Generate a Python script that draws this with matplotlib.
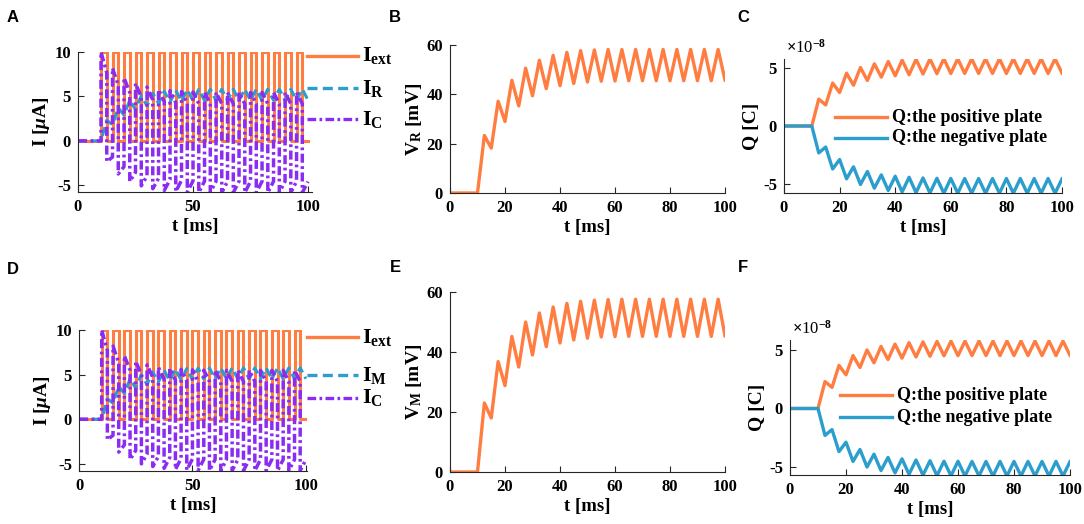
import matplotlib.pyplot as plt
from matplotlib.lines import Line2D

plt.rcParams['font.family'] = 'Liberation Serif'
plt.rcParams['font.weight'] = 'bold'
plt.rcParams['axes.labelweight'] = 'bold'
plt.rcParams['mathtext.fontset'] = 'custom'
plt.rcParams['mathtext.rm'] = 'Liberation Serif:bold'
plt.rcParams['mathtext.bf'] = 'Liberation Serif:bold'
plt.rcParams['mathtext.it'] = 'Liberation Serif:italic:bold'
plt.rcParams['axes.unicode_minus'] = False

ORANGE = '#FF7D40'
BLUE = '#2B9ECD'
PURPLE = '#8B2CF2'

W, H = 1084, 524

# switching times of the pulse train [ms]: rest until 10 ms, then 2.5 ms on / 2.5 ms off
t_nodes = [0, 10, 12.5, 15, 17.5, 20, 22.5, 25, 27.5, 30, 32.5, 35, 37.5, 40, 42.5,
           45, 47.5, 50, 52.5, 55, 57.5, 60, 62.5, 65, 67.5, 70, 72.5, 75, 77.5,
           80, 82.5, 85, 87.5, 90, 92.5, 95, 97.5, 100]
# voltage over the resistor at those times [mV] (panel B)
v_r = [0, 0, 23.3, 18.2, 37.2, 29.0, 45.7, 35.3, 50.6, 39.4, 53.8, 42.3, 55.8, 43.5,
       57.0, 44.4, 57.7, 45.0, 58.0, 45.3, 58.2, 45.4, 58.2, 45.5, 58.2, 45.5, 58.2,
       45.5, 58.2, 45.5, 58.2, 45.5, 58.2, 45.5, 58.2, 45.5, 58.2, 45.8]
# voltage over the memristor at those times [mV] (panel E)
v_m = [0, 0, 23.0, 18.0, 36.8, 28.8, 45.2, 35.0, 50.0, 39.0, 53.0, 41.8, 55.0, 43.0,
       56.2, 44.0, 56.9, 44.6, 57.3, 45.0, 57.5, 45.1, 57.6, 45.2, 57.6, 45.2, 57.6,
       45.2, 57.6, 45.2, 57.6, 45.2, 57.6, 45.2, 57.6, 45.2, 57.6, 45.4]

I_HIGH = 10.0      # pulse amplitude [uA]
R_KOHM = 10.0      # resistance [kOhm] -> I = V / R
C_SCALE = 10.0     # Q [1e-8 C] = V [mV] / 10 for C = 1 uF

DASH = (0, (3, 1.6))
DASHDOT = (0, (2.6, 1.0, 0.8, 1.0))


def currents(t, v):
    ts, iext, ir, ic = [], [], [], []
    for k in range(len(t) - 1):
        level = 0.0 if k == 0 or k % 2 == 0 else I_HIGH
        for j in (k, k + 1):
            ts.append(t[j])
            iext.append(level)
            ir.append(v[j] / R_KOHM)
            ic.append(level - v[j] / R_KOHM)
    return ts, iext, ir, ic


def make_ax(fig, x0, y0, x1, y1):
    ax = fig.add_axes([x0 / W, 1 - y1 / H, (x1 - x0) / W, (y1 - y0) / H])
    for s in ('top', 'right'):
        ax.spines[s].set_visible(False)
    for s in ('left', 'bottom'):
        ax.spines[s].set_color('#262626')
        ax.spines[s].set_linewidth(0.8)
    ax.tick_params(direction='in', length=4, width=0.8, labelsize=12, colors='#262626',
                   labelcolor='black', pad=5)
    return ax


def fig_legend(fig, entries, x0, x1, xt, ys, size):
    for (color, ls, label), y in zip(entries, ys):
        fig.add_artist(Line2D([x0 / W, x1 / W], [1 - y / H, 1 - y / H], color=color,
                              lw=2.4, linestyle=ls, transform=fig.transFigure))
        fig.text(xt / W, 1 - y / H, label, fontsize=size, va='center', ha='left')


def current_panel(fig, box, t, v, name, ylim, xmax, leg_ys):
    ax = make_ax(fig, *box)
    ts, iext, ir, ic = currents(t, v)
    ax.plot(ts, iext, color=ORANGE, lw=2.2)
    ax.plot(ts, ir, color=BLUE, lw=2.2, linestyle=DASH)
    ax.plot(ts, ic, color=PURPLE, lw=2.5, linestyle=DASHDOT)
    ax.set_xlim(0, xmax)
    ax.set_ylim(*ylim)
    ax.set_xticks([0, 50, 100])
    ax.set_yticks([-5, 0, 5, 10])
    ax.set_xlabel('t [ms]', fontsize=13.5, labelpad=2)
    ax.set_ylabel(r'I [$\mu$A]', fontsize=14, labelpad=2)
    fig_legend(fig, [(ORANGE, '-', r'$\mathbf{I_{ext}}$'),
                     (BLUE, DASH, r'$\mathbf{I_{%s}}$' % name),
                     (PURPLE, DASHDOT, r'$\mathbf{I_C}$')],
               307, 358, 362, leg_ys, 16)
    return ax


def voltage_panel(fig, box, t, v, name):
    ax = make_ax(fig, *box)
    ax.plot(t, v, color=ORANGE, lw=2.4)
    ax.set_xlim(0, 100)
    ax.set_ylim(0, 60)
    ax.set_xticks([0, 20, 40, 60, 80, 100])
    ax.set_yticks([0, 20, 40, 60])
    ax.set_xlabel('t [ms]', fontsize=13.5, labelpad=2)
    ax.set_ylabel(r'$\mathbf{V_{%s}}$ [mV]' % name, fontsize=14, labelpad=2)
    return ax


def charge_panel(fig, box, t, v, ylim, leg_x, leg_ys):
    ax = make_ax(fig, *box)
    q = [x / C_SCALE for x in v]
    ax.plot(t, q, color=ORANGE, lw=2.4)
    ax.plot(t, [-x for x in q], color=BLUE, lw=2.4)
    ax.set_xlim(0, 100)
    ax.set_ylim(*ylim)
    ax.set_xticks([0, 20, 40, 60, 80, 100])
    ax.set_yticks([-5, 0, 5])
    ax.set_xlabel('t [ms]', fontsize=13.5, labelpad=2)
    ax.set_ylabel('Q [C]', fontsize=14, labelpad=2)
    x0, y0 = box[0], box[1]
    fig.text((x0 + 2) / W, 1 - (y0 - 2) / H, r'$\times$10$^{\mathbf{-8}}$', fontsize=12,
             fontweight='normal', va='bottom', ha='left')
    fig_legend(fig, [(ORANGE, '-', 'Q:the positive plate'),
                     (BLUE, '-', 'Q:the negative plate')],
               leg_x, leg_x + 52, leg_x + 57, leg_ys, 13)
    return ax


fig = plt.figure(figsize=(W / 100, H / 100), dpi=100)

current_panel(fig, (78, 52, 311.5, 192), t_nodes, v_r, 'R', (-5.75, 10), 101.5, (56, 88, 119))
voltage_panel(fig, (450, 45, 725, 193), t_nodes, v_r, 'R')
charge_panel(fig, (784, 59, 1062, 193), t_nodes, v_r, (-5.8, 5.8), 835, (117, 138))

current_panel(fig, (79, 330, 307, 471), t_nodes, v_m, 'M', (-5.8, 10), 100.5, (337, 375, 398))
voltage_panel(fig, (450, 292, 725, 472), t_nodes, v_m, 'M')
charge_panel(fig, (790, 340, 1070, 475), t_nodes, v_m, (-5.68, 5.85), 840, (395, 417))

for letter, x, y in [('A', 13, 18), ('B', 395, 17), ('C', 743, 17),
                     ('D', 13, 269), ('E', 395, 268), ('F', 743, 268)]:
    fig.text(x / W, 1 - y / H, letter, family='Liberation Sans', fontweight='bold',
             fontsize=12, va='center', ha='center')

fig.savefig('out.png', dpi=100)
